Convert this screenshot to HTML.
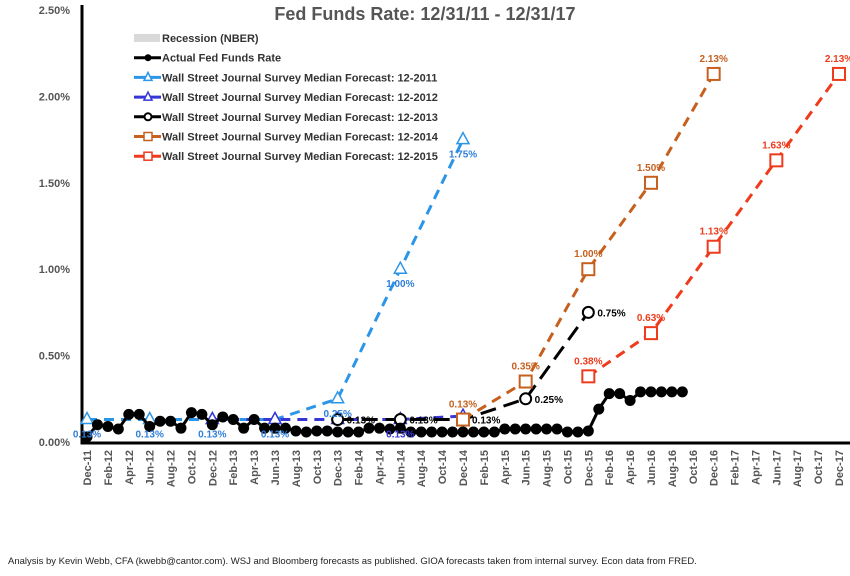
<!DOCTYPE html>
<html><head><meta charset="utf-8"><style>
body{margin:0;background:#fff;width:850px;height:571px;overflow:hidden;font-family:"Liberation Sans",sans-serif}
svg text{font-family:"Liberation Sans",sans-serif}
</style></head><body>
<svg id="c" width="850" height="571">
<text x="425" y="20" text-anchor="middle" font-size="18" font-weight="bold" fill="#555">Fed Funds Rate: 12/31/11 - 12/31/17</text>
<text x="8" y="564" font-size="9.5" fill="#222">Analysis by Kevin Webb, CFA (kwebb@cantor.com). WSJ and Bloomberg forecasts as published.  GIOA forecasts taken from internal survey. Econ data from FRED.</text>
</svg>
<script>
const yTicks=[0,0.5,1.0,1.5,2.0,2.5];
const yTickLabels=["0.00%","0.50%","1.00%","1.50%","2.00%","2.50%"];
const xLabels=["Dec-11","Feb-12","Apr-12","Jun-12","Aug-12","Oct-12","Dec-12","Feb-13","Apr-13","Jun-13","Aug-13","Oct-13","Dec-13","Feb-14","Apr-14","Jun-14","Aug-14","Oct-14","Dec-14","Feb-15","Apr-15","Jun-15","Aug-15","Oct-15","Dec-15","Feb-16","Apr-16","Jun-16","Aug-16","Oct-16","Dec-16","Feb-17","Apr-17","Jun-17","Aug-17","Oct-17","Dec-17"];
const actual=[0.03,0.10,0.09,0.075,0.16,0.16,0.09,0.12,0.12,0.08,0.17,0.16,0.10,0.145,0.13,0.08,0.13,0.08,0.08,0.08,0.064,0.058,0.064,0.064,0.058,0.058,0.058,0.08,0.08,0.075,0.08,0.058,0.058,0.058,0.058,0.058,0.058,0.058,0.058,0.058,0.075,0.075,0.075,0.075,0.075,0.075,0.058,0.058,0.064,0.19,0.28,0.28,0.24,0.29,0.29,0.29,0.29,0.29];
const f2011m=[0,6,12,18,24,30,36], f2011=[0.13,0.13,0.13,0.13,0.25,1.00,1.75];
const f2012m=[12,18,24,30,36], f2012=[0.13,0.13,0.13,0.13,0.15];
const f2013m=[24,30,36,42,48], f2013=[0.13,0.13,0.13,0.25,0.75];
const f2014m=[36,42,48,54,60], f2014=[0.13,0.35,1.00,1.50,2.13];
const f2015m=[48,54,60,66,72], f2015=[0.38,0.63,1.13,1.63,2.13];
const svg=document.getElementById('c');const NS='http://www.w3.org/2000/svg';
const X=m=>87+m*(752/72), Y=v=>442-v*172.8;
function el(t,a,p){const e=document.createElementNS(NS,t);for(const k in a)e.setAttribute(k,a[k]);(p||svg).appendChild(e);return e;}
yTicks.forEach((v,i)=>{const t=el('text',{x:70,y:Y(v)+4,'text-anchor':'end','font-size':11,'font-weight':'bold',fill:'#555'});t.textContent=yTickLabels[i];

});
xLabels.forEach((s,i)=>{const x=X(i*2);const t=el('text',{x:0,y:0,transform:`translate(${x+4},450) rotate(-90)`,'text-anchor':'end','font-size':11,'font-weight':'bold',fill:'#555'});t.textContent=s;

});
const ax=el('path',{d:'M82,5 V443 H850',stroke:'#000','stroke-width':3,fill:'none'});


function series(ms,vs,color,dash,marker,name,w){
 const g=el('g',{});
 el('polyline',{points:vs.map((v,i)=>X(ms?ms[i]:i)+','+Y(v)).join(' '),stroke:color,'stroke-width':w||3,fill:'none','stroke-dasharray':dash||''},g);
 vs.forEach((v,i)=>{const x=X(ms?ms[i]:i),y=Y(v);let m;
  if(marker==='dot')m=el('circle',{cx:x,cy:y,r:5.5,fill:'#000'},g);
  else if(marker==='circ')m=el('circle',{cx:x,cy:y,r:5.5,fill:'#fff',stroke:'#000','stroke-width':2},g);
  else if(marker==='tri')m=el('path',{d:`M${x},${y-7} L${x+6},${y+4} L${x-6},${y+4}Z`,fill:'#fff',stroke:color,'stroke-width':1.5},g);
  else m=el('rect',{x:x-6,y:y-6,width:12,height:12,fill:'#fff',stroke:color,'stroke-width':2},g);
  });
 return g;}
function labels(ms,vs,color,dx,dy,anchor,idx){idx.forEach(i=>{const t=el('text',{x:X(ms[i])+dx,y:Y(vs[i])+dy,'text-anchor':anchor,'font-size':10,'font-weight':'bold',fill:color});t.textContent=vs[i].toFixed(2)+'%';

});}
series(f2011m,f2011,'#2b95e8','10,7','tri','forecast-2011');
series(f2012m,f2012,'#3636d6','10,7','tri','forecast-2012');
series(f2013m,f2013,'#000','16,8','circ','forecast-2013');
series(f2014m,f2014,'#c5601f','10,7','sq','forecast-2014');
series(f2015m,f2015,'#ee3b1c','10,7','sq','forecast-2015');
series(null,actual,'#000','','dot','actual-fed-funds',3);
labels(f2011m,f2011,'#2f7fd8',0,18,'middle',[0,1,2,3,4,5,6]);
labels(f2012m,f2012,'#3636d6',0,18,'middle',[3]);
labels(f2013m,f2013,'#000',9,4,'start',[0,1,2,3,4]);
labels(f2014m,f2014,'#c5601f',0,-12,'middle',[0,1,2,3,4]);
labels(f2015m,f2015,'#ee3b1c',0,-12,'middle',[0,1,2,3,4]);
const leg=[['Recession (NBER)','#ccc','rec'],['Actual Fed Funds Rate','#000','dot'],['Wall Street Journal Survey Median Forecast: 12-2011','#2b95e8','tri'],['Wall Street Journal Survey Median Forecast: 12-2012','#3636d6','tri'],['Wall Street Journal Survey Median Forecast: 12-2013','#000','circ'],['Wall Street Journal Survey Median Forecast: 12-2014','#c5601f','sq'],['Wall Street Journal Survey Median Forecast: 12-2015','#ee3b1c','sq']];
leg.forEach((r,i)=>{const y=38+i*19.7;const g=el('g',{});
 if(r[2]==='rec')el('rect',{x:134,y:y-4,width:26,height:8,fill:'#d9d9d9'},g);
 else{el('line',{x1:134,y1:y,x2:161,y2:y,stroke:r[1],'stroke-width':3},g);
  if(r[2]==='dot')el('circle',{cx:148,cy:y,r:3.5,fill:'#000'},g);
  if(r[2]==='circ')el('circle',{cx:148,cy:y,r:3.5,fill:'#fff',stroke:'#000','stroke-width':2},g);
  if(r[2]==='tri')el('path',{d:`M148,${y-5} L152,${y+3} L144,${y+3}Z`,fill:'#fff',stroke:r[1],'stroke-width':1.5},g);
  if(r[2]==='sq')el('rect',{x:144,y:y-4,width:8,height:8,fill:'#fff',stroke:r[1],'stroke-width':1.5},g);}
 const t=el('text',{x:162,y:y+4,'font-size':11,'font-weight':'bold',fill:'#333'},g);t.textContent=r[0];});
</script>
</body></html>
